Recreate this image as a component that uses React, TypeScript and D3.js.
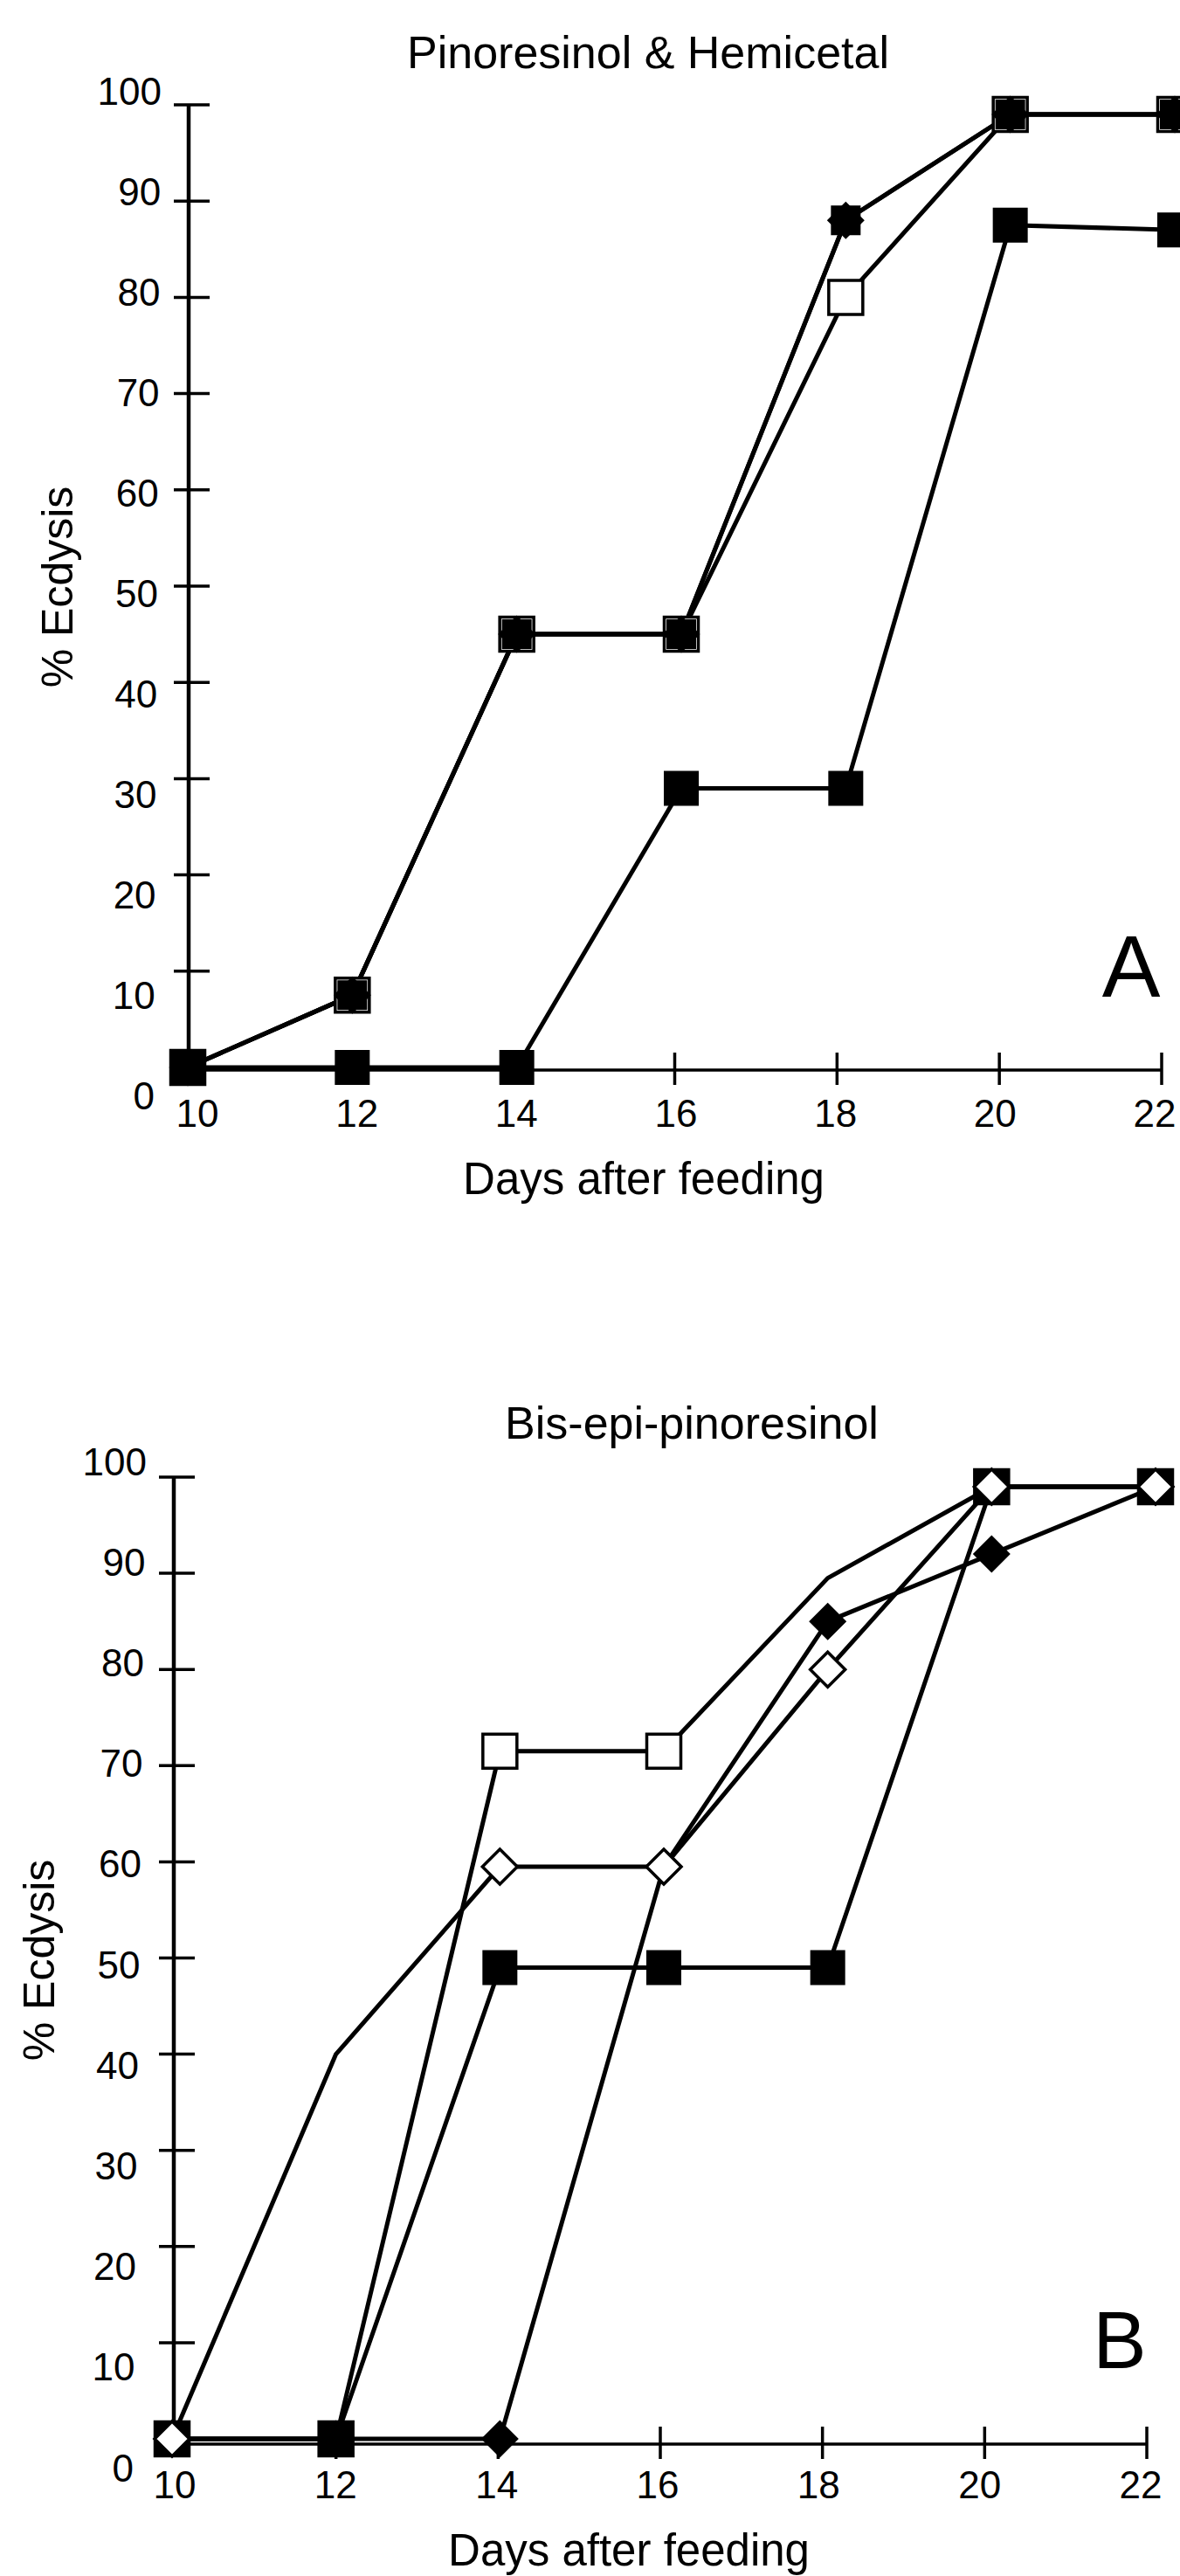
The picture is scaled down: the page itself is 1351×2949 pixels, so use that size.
import React from 'react';
import * as d3 from 'd3';

// ---------- data ----------
const days = [10, 12, 14, 16, 18, 20, 22];
const yTickValues = [10, 20, 30, 40, 50, 60, 70, 80, 90, 100];
const yLabelValues = [0, 10, 20, 30, 40, 50, 60, 70, 80, 90, 100];
const xTickValues = [12, 14, 16, 18, 20, 22];
const xLabelValues = [10, 12, 14, 16, 18, 20, 22];

// Panel A – Pinoresinol & Hemicetal
const aOpenSquare = [0, 7.5, 45, 45, 80, 99, 99];
const aFilledSquareUpper = [0, 7.5, 45, 45, 88, 99, 99];
const aFilledDiamond = [0, 7.5, 45, 45, 88, 99, 99];
const aFilledSquareLower = [0, 0, 0, 29, 29, 87.5, 87];

// Panel B – Bis-epi-pinoresinol
const bOpenSquare = [0, 0, 71.5, 71.5, 89.5, 99, 99];
const bOpenSquareMarked = [true, true, true, true, false, true, true];
const bFilledSquare = [0, 0, 49, 49, 49, 99, 99];
const bFilledDiamond = [0, 0, 0, 59.5, 85, 92, 99];
const bOpenDiamond = [0, 40, 59.5, 59.5, 80, 99, 99];
const bOpenDiamondMarked = [true, false, true, true, true, true, true];

type Sym = 'openSquare' | 'filledSquare' | 'innerFilledSquare' | 'filledDiamond' | 'openDiamond';
interface Series { values: number[]; symbol: Sym; marked?: boolean[] }

const seriesA: Series[] = [
  { values: aOpenSquare, symbol: 'openSquare' },
  { values: aFilledSquareUpper, symbol: 'innerFilledSquare' },
  { values: aFilledDiamond, symbol: 'filledDiamond' },
  { values: aFilledSquareLower, symbol: 'filledSquare' },
];
const seriesB: Series[] = [
  { values: bOpenSquare, symbol: 'openSquare', marked: bOpenSquareMarked },
  { values: bFilledSquare, symbol: 'filledSquare' },
  { values: bFilledDiamond, symbol: 'filledDiamond' },
  { values: bOpenDiamond, symbol: 'openDiamond', marked: bOpenDiamondMarked },
];

const FONT = '"Liberation Sans", Arial, Helvetica, sans-serif';

function squarePath(h: number) {
  const p = d3.path();
  p.moveTo(-h, -h); p.lineTo(h, -h); p.lineTo(h, h); p.lineTo(-h, h); p.closePath();
  return p.toString();
}
function diamondPath(d: number) {
  const p = d3.path();
  p.moveTo(0, -d); p.lineTo(d, 0); p.lineTo(0, d); p.lineTo(-d, 0); p.closePath();
  return p.toString();
}

function Marker({ sym, x, y }: { sym: Sym; x: number; y: number }) {
  const t = `translate(${x},${y})`;
  switch (sym) {
    case 'openSquare':
      return <path transform={t} d={squarePath(19.5)} fill="#fff" stroke="#000" strokeWidth={3.5} />;
    case 'filledSquare':
      return <path transform={t} d={squarePath(20)} fill="#000" />;
    case 'innerFilledSquare':
      return <path transform={t} d={squarePath(17)} fill="#000" />;
    case 'filledDiamond':
      return <path transform={t} d={diamondPath(21.5)} fill="#000" />;
    case 'openDiamond':
      return <path transform={t} d={diamondPath(20)} fill="#fff" stroke="#000" strokeWidth={3.5} />;
  }
}

interface PanelCfg {
  series: Series[];
  xData: d3.ScaleLinear<number, number>;
  xAxis: d3.ScaleLinear<number, number>;
  xLabel: d3.ScaleLinear<number, number>;
  y: d3.ScaleLinear<number, number>;
  yLabelY: d3.ScaleLinear<number, number>;
  yLabelX: d3.ScaleLinear<number, number>;
  axisX: number;
  axisY: number;
  xLabelBaseline: number;
  title: string; titleX: number; titleY: number;
  xTitleX: number; xTitleY: number;
  yTitleX: number; yTitleY: number;
  letter: string; letterX: number; letterY: number; letterSize: number;
}

const panelA: PanelCfg = {
  series: seriesA,
  xData: d3.scaleLinear().domain([10, 22]).range([215, 1345]),
  xAxis: d3.scaleLinear().domain([10, 22]).range([215, 1330]),
  xLabel: d3.scaleLinear().domain([10, 22]).range([226, 1322]),
  y: d3.scaleLinear().domain([0, 100]).range([1222, 120]),
  yLabelY: d3.scaleLinear().domain([0, 100]).range([1254, 104]),
  yLabelX: d3.scaleLinear().domain([0, 100]).range([177, 185]),
  axisX: 216,
  axisY: 1225,
  xLabelBaseline: 1290,
  title: 'Pinoresinol & Hemicetal', titleX: 742, titleY: 78,
  xTitleX: 737, xTitleY: 1367,
  yTitleX: 83, yTitleY: 672,
  letter: 'A', letterX: 1295, letterY: 1141, letterSize: 100,
};

const panelB: PanelCfg = {
  series: seriesB,
  xData: d3.scaleLinear().domain([10, 22]).range([197, 1323]),
  xAxis: d3.scaleLinear().domain([10, 22]).range([199, 1313]),
  xLabel: d3.scaleLinear().domain([10, 22]).range([200, 1306]),
  y: d3.scaleLinear().domain([0, 100]).range([2792, 1691]),
  yLabelY: d3.scaleLinear().domain([0, 100]).range([2825, 1673]),
  yLabelX: d3.scaleLinear().domain([0, 100]).range([153, 168]),
  axisX: 199,
  axisY: 2798,
  xLabelBaseline: 2860,
  title: 'Bis-epi-pinoresinol', titleX: 792, titleY: 1647,
  xTitleX: 720, xTitleY: 2937,
  yTitleX: 62, yTitleY: 2244,
  letter: 'B', letterX: 1282, letterY: 2711, letterSize: 92,
};

function Panel({ cfg }: { cfg: PanelCfg }) {
  const { xData, xAxis, y } = cfg;
  const line = d3.line<number>().x((_, i) => xData(days[i])).y((d) => y(d));
  return (
    <g>
      {/* axes */}
      <line x1={cfg.axisX} x2={cfg.axisX} y1={cfg.axisY} y2={y(100)} stroke="#000" strokeWidth={4.5} />
      <line x1={cfg.axisX} x2={xAxis(22)} y1={cfg.axisY} y2={cfg.axisY} stroke="#000" strokeWidth={3.5} />
      {yTickValues.map((v) => (
        <line key={'yt' + v} x1={cfg.axisX - 17} x2={cfg.axisX + 24} y1={y(v)} y2={y(v)} stroke="#000" strokeWidth={3.5} />
      ))}
      {xTickValues.map((v) => (
        <line key={'xt' + v} x1={xAxis(v)} x2={xAxis(v)} y1={cfg.axisY - 20} y2={cfg.axisY + 17} stroke="#000" strokeWidth={3.5} />
      ))}
      {yLabelValues.map((v) => (
        <text key={'yl' + v} x={cfg.yLabelX(v)} y={cfg.yLabelY(v) + 15.5} textAnchor="end" fontSize={44} fontFamily={FONT}>
          {v}
        </text>
      ))}
      {xLabelValues.map((v) => (
        <text key={'xl' + v} x={cfg.xLabel(v)} y={cfg.xLabelBaseline} textAnchor="middle" fontSize={44} fontFamily={FONT}>
          {v}
        </text>
      ))}
      {/* titles */}
      <text x={cfg.titleX} y={cfg.titleY} textAnchor="middle" fontSize={52} fontFamily={FONT}>{cfg.title}</text>
      <text x={cfg.xTitleX} y={cfg.xTitleY} textAnchor="middle" fontSize={51} fontFamily={FONT}>Days after feeding</text>
      <text transform={`translate(${cfg.yTitleX},${cfg.yTitleY}) rotate(-90)`} textAnchor="middle" fontSize={50} fontFamily={FONT}>% Ecdysis</text>
      <text x={cfg.letterX} y={cfg.letterY} textAnchor="middle" fontSize={cfg.letterSize} fontFamily={FONT}>{cfg.letter}</text>
      {/* lines */}
      {cfg.series.map((s, si) => (
        <path key={'l' + si} d={line(s.values) || ''} fill="none" stroke="#000" strokeWidth={5} strokeLinejoin="round" />
      ))}
      {/* markers */}
      {cfg.series.map((s, si) => (
        <g key={'m' + si}>
          {s.values.map((v, i) =>
            s.marked && !s.marked[i] ? null : <Marker key={i} sym={s.symbol} x={xData(days[i])} y={y(v)} />
          )}
        </g>
      ))}
    </g>
  );
}

export default function App() {
  return (
    <svg
      width={1351}
      height={2949}
      viewBox="0 0 1351 2949"
      style={{ position: 'absolute', left: 0, top: 0, background: '#fff' }}
    >
      <rect x={0} y={0} width={1351} height={2949} fill="#fff" />
      <Panel cfg={panelA} />
      <Panel cfg={panelB} />
    </svg>
  );
}
